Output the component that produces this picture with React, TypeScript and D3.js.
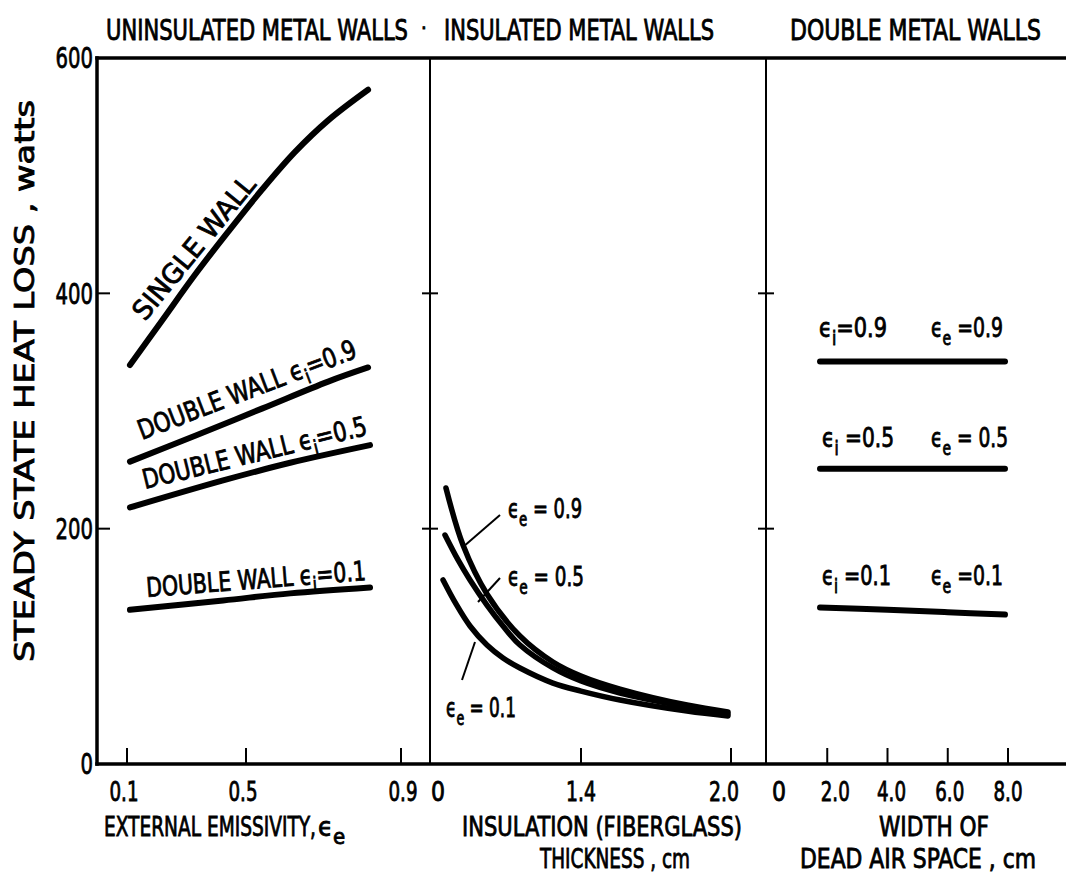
import React from 'react';
import * as d3 from 'd3';

// ---------- data ----------
const yTickValues = [0, 200, 400, 600];
const yTickLabels = ['0', '200', '400', '600'];

const p1TickValues = [0.1, 0.5, 0.9];
const p1TickLabels = ['0.1', '0.5', '0.9'];
const p2TickValues = [0, 1.4, 2.0];
const p2TickLabels = ['0', '1.4', '2.0'];
const p3TickValues = [0, 2, 4, 6, 8];
const p3TickLabels = ['0', '2.0', '4.0', '6.0', '8.0'];

// Panel 1: uninsulated metal walls (x = external emissivity)
const singleWallE = [0.11, 0.218, 0.329, 0.439, 0.541, 0.626, 0.712, 0.815];
const singleWallW = [339, 377, 416, 452, 488, 520, 547, 573];
const dw09E = [0.11, 0.329, 0.541, 0.712, 0.815];
const dw09W = [257, 279, 302, 325, 337];
const dw05E = [0.11, 0.423, 0.614, 0.82];
const dw05W = [218, 241, 256, 271];
const dw01E = [0.11, 0.423, 0.614, 0.82];
const dw01W = [131, 139, 145, 150];

// Panel 2: insulated metal walls (x = insulation thickness, cm)
const ins09T = [0.148, 0.306, 0.528, 0.834, 1.14, 1.4, 1.556, 1.824, 1.988];
const ins09W = [234.6, 186.1, 144.5, 108.8, 86.7, 74.8, 63.7, 50.1, 44.2];
const ins05T = [0.139, 0.26, 0.371, 0.528, 0.677, 0.834, 1.14, 1.4, 1.556, 1.824, 1.988];
const ins05W = [194.6, 173.4, 156.4, 135.1, 117.3, 101.1, 81.6, 70.5, 60.3, 48.4, 42.5];
const ins01T = [0.121, 0.241, 0.371, 0.528, 0.677, 0.834, 1.14, 1.4, 1.556, 1.824, 1.988];
const ins01W = [156.4, 136.0, 117.3, 101.1, 90.1, 81.6, 68.8, 62.0, 54.4, 45.0, 40.8];

// Panel 3: double metal walls (x = width of dead air space, cm)
const dbl09X = [1.76, 7.9];
const dbl09W = [342, 342];
const dbl05X = [1.76, 7.9];
const dbl05W = [251, 251];
const dbl01X = [1.76, 4, 6, 7.9];
const dbl01W = [133, 131, 129, 127];

// ---------- layout ----------
const WIDTH = 1066;
const HEIGHT = 873;
const FONT = "'DejaVu Sans Condensed', 'DejaVu Sans', sans-serif";

const y = d3.scaleLinear().domain([0, 600]).range([764, 58]);
const x1 = d3.scaleLinear().domain([0.1, 0.5, 0.9]).range([127, 246, 401]);
const x2 = d3.scaleLinear().domain([0, 1.4, 2.0]).range([430, 581, 731]);
const x3 = d3.scaleLinear().domain([0, 8]).range([767, 1008]);

const AXIS_LEFT = 97;
const DIV1 = 430;
const DIV2 = 766;
const AXIS_TOP = y(600);
const AXIS_BOTTOM = y(0);

type Sx = (v: number) => number;

function path(sx: Sx, xs: number[], ws: number[]) {
  const gen = d3
    .line<number>()
    .x((_, i) => sx(xs[i]))
    .y((_, i) => y(ws[i]))
    .curve(d3.curveCatmullRom.alpha(0.5));
  return gen(xs) || '';
}

const p1LabelDx = [-3, -3, 2];
const p2LabelDx = [8, 0, -7];
const p3LabelDx = [12, 8, 4, 2, 0];

function Eps({ x, yy, sub, value, size = 26, len }: { x: number; yy: number; sub: string; value: string; size?: number; len?: number }) {
  return (
    <text x={x} y={yy} fontSize={size} fontFamily={FONT} textLength={len} lengthAdjust="spacingAndGlyphs">
      ϵ
      <tspan dy={size * 0.3} fontSize={size * 0.75}>{sub}</tspan>
      <tspan dy={-size * 0.3}>{value}</tspan>
    </text>
  );
}

export default function App() {
  const thick = 6;
  return (
    <svg
      width={WIDTH}
      height={HEIGHT}
      viewBox={`0 0 ${WIDTH} ${HEIGHT}`}
      style={{ position: 'absolute', left: 0, top: 0, background: '#fff' }}
    >
      <style>{`text { stroke: #000; stroke-width: 0.8px; fill: #000; }`}</style>
      <rect x={0} y={0} width={WIDTH} height={HEIGHT} fill="#fff" />

      {/* panel titles */}
      <g fontFamily={FONT} fontSize={28}>
        <text x={106} y={40} textLength={302} lengthAdjust="spacingAndGlyphs">UNINSULATED METAL WALLS</text>
        <text x={421} y={35} fontSize={20}>·</text>
        <text x={444} y={40} textLength={270} lengthAdjust="spacingAndGlyphs">INSULATED METAL WALLS</text>
        <text x={790} y={40} textLength={251} lengthAdjust="spacingAndGlyphs">DOUBLE METAL WALLS</text>
      </g>

      {/* frame */}
      <g stroke="#000" fill="none" strokeLinecap="square">
        <line x1={AXIS_LEFT} y1={AXIS_TOP} x2={WIDTH} y2={AXIS_TOP} strokeWidth={3.5} />
        <line x1={AXIS_LEFT} y1={AXIS_BOTTOM} x2={WIDTH} y2={AXIS_BOTTOM} strokeWidth={3.5} />
        <line x1={AXIS_LEFT} y1={AXIS_TOP} x2={AXIS_LEFT} y2={AXIS_BOTTOM} strokeWidth={3.5} />
        <line x1={DIV1} y1={AXIS_TOP} x2={DIV1} y2={AXIS_BOTTOM} strokeWidth={2} />
        <line x1={DIV2} y1={AXIS_TOP} x2={DIV2} y2={AXIS_BOTTOM} strokeWidth={2} />
      </g>

      {/* y ticks */}
      <g stroke="#000" strokeWidth={2}>
        {yTickValues.filter((v) => v > 0 && v < 600).map((v) => (
          <g key={v}>
            <line x1={AXIS_LEFT} x2={AXIS_LEFT + 13} y1={y(v)} y2={y(v)} />
            <line x1={DIV1 - 8} x2={DIV1 + 8} y1={y(v)} y2={y(v)} />
            <line x1={DIV2 - 8} x2={DIV2 + 8} y1={y(v)} y2={y(v)} />
          </g>
        ))}
      </g>
      <g fontFamily="'DejaVu Sans', sans-serif" fontSize={29} textAnchor="end">
        {yTickValues.map((v, i) => (
          <text key={v} x={AXIS_LEFT - 4} y={y(v)} dy="0.36em" textLength={yTickLabels[i].length * 12.5} lengthAdjust="spacingAndGlyphs">
            {yTickLabels[i]}
          </text>
        ))}
      </g>

      {/* x ticks */}
      <g stroke="#000" strokeWidth={2}>
        {p1TickValues.map((v) => (
          <line key={'a' + v} x1={x1(v)} x2={x1(v)} y1={AXIS_BOTTOM} y2={AXIS_BOTTOM - 16} />
        ))}
        {p2TickValues.filter((v) => v > 0).map((v) => (
          <line key={'b' + v} x1={x2(v)} x2={x2(v)} y1={AXIS_BOTTOM} y2={AXIS_BOTTOM - 16} />
        ))}
        {p3TickValues.filter((v) => v > 0).map((v) => (
          <line key={'c' + v} x1={x3(v)} x2={x3(v)} y1={AXIS_BOTTOM} y2={AXIS_BOTTOM - 16} />
        ))}
      </g>
      <g fontFamily={FONT} fontSize={27} textAnchor="middle">
        {p1TickValues.map((v, i) => (
          <text key={'a' + v} x={x1(v) + p1LabelDx[i]} y={801} textLength={p1TickLabels[i].length > 1 ? 29 : 14} lengthAdjust="spacingAndGlyphs">{p1TickLabels[i]}</text>
        ))}
        {p2TickValues.map((v, i) => (
          <text key={'b' + v} x={x2(v) + p2LabelDx[i]} y={801} textLength={p2TickLabels[i].length > 1 ? 30 : 14} lengthAdjust="spacingAndGlyphs">{p2TickLabels[i]}</text>
        ))}
        {p3TickValues.map((v, i) => (
          <text key={'c' + v} x={x3(v) + p3LabelDx[i]} y={801} textLength={p3TickLabels[i].length > 1 ? 29 : 14} lengthAdjust="spacingAndGlyphs">{p3TickLabels[i]}</text>
        ))}
      </g>

      {/* axis titles */}
      <g fontFamily={FONT} fontSize={27}>
        <text x={104} y={836} textLength={212} lengthAdjust="spacingAndGlyphs">EXTERNAL EMISSIVITY,</text>
        <text x={318} y={836}>ϵ<tspan dy={8} fontSize={22}>e</tspan></text>
        <text x={462} y={836} textLength={280} lengthAdjust="spacingAndGlyphs">INSULATION (FIBERGLASS)</text>
        <text x={540} y={868} textLength={150} lengthAdjust="spacingAndGlyphs">THICKNESS , cm</text>
        <text x={879} y={836} textLength={110} lengthAdjust="spacingAndGlyphs">WIDTH OF</text>
        <text x={800} y={868} textLength={236} lengthAdjust="spacingAndGlyphs">DEAD AIR SPACE , cm</text>
      </g>
      <text
        transform={`translate(34, 662) rotate(-90)`}
        fontFamily="'DejaVu Sans', sans-serif"
        fontSize={26}
        textLength={562}
        lengthAdjust="spacingAndGlyphs"
      >
        STEADY STATE HEAT LOSS , watts
      </text>

      {/* curves */}
      <g fill="none" stroke="#000" strokeLinecap="round" strokeLinejoin="round">
        <path d={path(x1, singleWallE, singleWallW)} strokeWidth={thick} />
        <path d={path(x1, dw09E, dw09W)} strokeWidth={thick} />
        <path d={path(x1, dw05E, dw05W)} strokeWidth={thick} />
        <path d={path(x1, dw01E, dw01W)} strokeWidth={thick} />

        <path d={path(x2, ins09T, ins09W)} strokeWidth={5.5} />
        <path d={path(x2, ins05T, ins05W)} strokeWidth={5.5} />
        <path d={path(x2, ins01T, ins01W)} strokeWidth={5.5} />

        <path d={path(x3, dbl09X, dbl09W)} strokeWidth={thick} />
        <path d={path(x3, dbl05X, dbl05W)} strokeWidth={thick} />
        <path d={path(x3, dbl01X, dbl01W)} strokeWidth={thick} />
      </g>

      {/* panel 1 labels */}
      <g fontFamily={FONT} fontSize={27}>
        <text transform="translate(145,322) rotate(-50.7)" textLength={177} lengthAdjust="spacingAndGlyphs">SINGLE WALL</text>
        <text transform="translate(142,440) rotate(-21)" textLength={232} lengthAdjust="spacingAndGlyphs">
          DOUBLE WALL ϵ<tspan dy={7} fontSize={20}>i</tspan><tspan dy={-7}>=0.9</tspan>
        </text>
        <text transform="translate(145,489) rotate(-13.7)" textLength={230} lengthAdjust="spacingAndGlyphs">
          DOUBLE WALL ϵ<tspan dy={7} fontSize={20}>i</tspan><tspan dy={-7}>=0.5</tspan>
        </text>
        <text transform="translate(147,597) rotate(-4.4)" textLength={220} lengthAdjust="spacingAndGlyphs">
          DOUBLE WALL ϵ<tspan dy={7} fontSize={20}>i</tspan><tspan dy={-7}>=0.1</tspan>
        </text>
      </g>

      {/* panel 2 labels and leaders */}
      <g stroke="#000" strokeWidth={2}>
        <line x1={500} y1={515} x2={463} y2={547} />
        <line x1={500} y1={578} x2={478} y2={602} />
        <line x1={475} y1={642} x2={462} y2={680} />
      </g>
      <g>
        <Eps x={508} yy={518} sub="e" value=" = 0.9" len={74} />
        <Eps x={508} yy={586} sub="e" value=" = 0.5" len={76} />
        <Eps x={446} yy={717} sub="e" value=" = 0.1" len={70} />
      </g>

      {/* panel 3 labels */}
      <g>
        <Eps x={819} yy={337} sub="i" value="=0.9" len={68} />
        <Eps x={931} yy={337} sub="e" value=" =0.9" len={72} />
        <Eps x={822} yy={447} sub="i" value=" =0.5" len={72} />
        <Eps x={931} yy={447} sub="e" value=" = 0.5" len={77} />
        <Eps x={822} yy={585} sub="i" value=" =0.1" len={69} />
        <Eps x={931} yy={585} sub="e" value=" =0.1" len={72} />
      </g>
    </svg>
  );
}
